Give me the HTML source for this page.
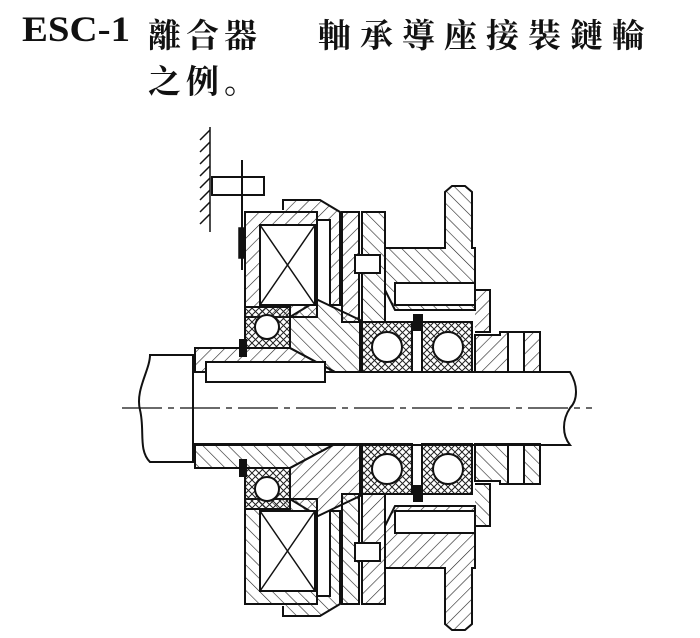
<!DOCTYPE html>
<html><head><meta charset="utf-8"><style>
body{margin:0;background:#fff;width:700px;height:638px;overflow:hidden;position:relative}
.t{position:absolute;font-family:"Liberation Serif","Noto Serif CJK SC",serif;font-size:33px;color:#111;white-space:pre;font-weight:bold;letter-spacing:5px}
.e{position:absolute;font-family:"Liberation Sans Narrow","Liberation Serif",serif;font-size:36px;color:#111;font-weight:bold;transform:scaleX(1.08);transform-origin:left}
</style></head><body>
<div class="e" style="left:22px;top:8px">ESC-1</div>
<div class="t" style="left:148px;top:10px">離合器</div>
<div class="t" style="left:318px;top:10px;letter-spacing:9px">軸承導座接裝鏈輪</div>
<div class="t" style="left:148px;top:56px">之例。</div>
<svg width="700" height="638" style="position:absolute;left:0;top:0" viewBox="0 0 700 638">
<defs>
<pattern id="h" width="9" height="9" patternUnits="userSpaceOnUse" patternTransform="rotate(45)"><line x1="0" y1="0" x2="0" y2="9" stroke="#222" stroke-width="1.2"/></pattern>
<pattern id="h2" width="9" height="9" patternUnits="userSpaceOnUse" patternTransform="rotate(-45)"><line x1="0" y1="0" x2="0" y2="9" stroke="#222" stroke-width="1.2"/></pattern>
<pattern id="x" width="7" height="7" patternUnits="userSpaceOnUse"><path d="M0 0L7 7M7 0L0 7" stroke="#222" stroke-width="1"/></pattern>
<g id="half" stroke="#111" stroke-width="2" fill="none">
 <path d="M195 348H240L290 348 335 372H195Z" fill="url(#h)"/>
 <path d="M290 317V348L335 372H360V320L318 300Z" fill="url(#h2)"/>
 <path d="M245 212H317V317H245Z" fill="url(#h)"/>
 <rect x="260" y="225" width="55" height="80" fill="#fff"/>
 <path d="M260 225L315 305M315 225L260 305" stroke-width="1.5"/>
 <path d="M283 210V200H320L340 212V305H330V220H317" fill="url(#h)"/>
 <rect x="342" y="212" width="17" height="110" fill="url(#h)"/>
 <rect x="362" y="212" width="23" height="110" fill="url(#h2)"/>
 <path d="M385 248H445V192L452 186 465 186 472 192V248H475V310H395L385 290Z" fill="url(#h2)"/>
 <rect x="395" y="283" width="80" height="22" fill="#fff"/>
 <path d="M475 290H490V332H475" fill="url(#h)"/>
 <rect x="245" y="307" width="45" height="41" fill="url(#x)"/>
 <circle cx="267" cy="327" r="12" fill="#fff"/>
 <rect x="362" y="322" width="50" height="50" fill="url(#x)"/>
 <rect x="422" y="322" width="50" height="50" fill="url(#x)"/>
 <circle cx="387" cy="347" r="15" fill="#fff"/>
 <circle cx="448" cy="347" r="15" fill="#fff"/>
 <rect x="414" y="315" width="8" height="15" fill="#111"/>
 <rect x="240" y="340" width="6" height="16" fill="#111"/>
 <path d="M475 372V335H500V332H540V372Z" fill="url(#h)"/>
 <rect x="508" y="332" width="16" height="40" fill="#fff"/>
 <rect x="355" y="255" width="25" height="18" fill="#fff"/>
</g>
</defs>
<g stroke="#111" stroke-width="1.5" fill="none">
<line x1="210" y1="127" x2="210" y2="232"/>
<path d="M200 140L210 130M200 152L210 142M200 164L210 154M200 176L210 166M200 188L210 178M200 200L210 190M200 212L210 202M200 224L210 214"/>
<rect x="212" y="177" width="52" height="18" fill="#fff" stroke-width="2"/>
<line x1="242" y1="160" x2="242" y2="270" stroke-width="2"/>
<rect x="239" y="228" width="5" height="30" fill="#111"/>
</g>
<use href="#half"/>
<use href="#half" transform="translate(0,816) scale(1,-1)"/>
<g stroke="#111" stroke-width="2" fill="none">
<path d="M193 372H570C578 385 578 400 570 408C562 420 562 435 570 445H193"/>
<path d="M193 355V462H150C138 450 145 430 140 410C135 390 150 370 150 355Z" fill="#fff"/>
<rect x="206" y="362" width="119" height="20" fill="#fff"/>
<line x1="122" y1="408" x2="592" y2="408" stroke-width="1.2" stroke-dasharray="40 6 6 6"/>
</g>
</svg>
</body></html>
